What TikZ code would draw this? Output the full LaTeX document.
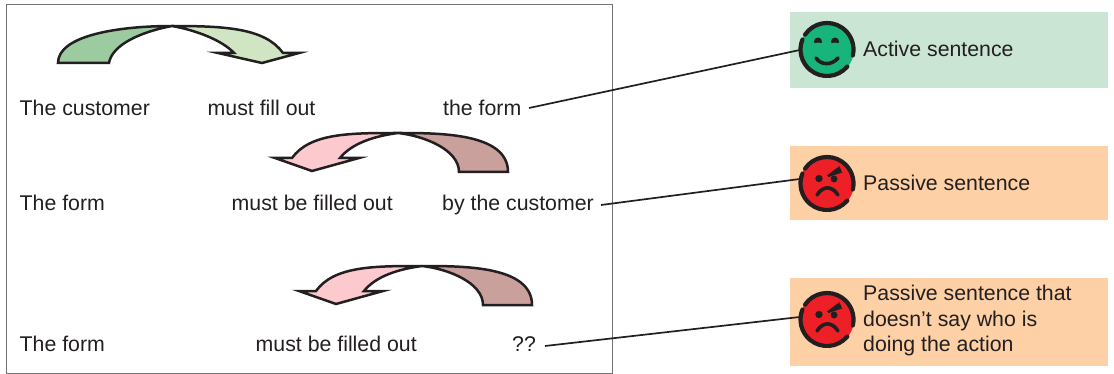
\documentclass[tikz,border=0pt]{standalone}
\usepackage{fontspec}
\setmainfont{Liberation Sans}
\definecolor{txt}{HTML}{231F20}
\definecolor{gDark}{HTML}{9CCBA0}
\definecolor{gLight}{HTML}{CFE5C4}
\definecolor{pLight}{HTML}{FBC9CE}
\definecolor{pDark}{HTML}{C9A09C}
\definecolor{gBox}{HTML}{CBE5D4}
\definecolor{oBox}{HTML}{FDD0A5}
\definecolor{faceG}{HTML}{17B47C}
\definecolor{faceR}{HTML}{EE2027}
\tikzset{
  lbl/.style={font=\fontsize{21.3}{25}\selectfont,text=txt,inner sep=0pt,anchor=base west},
  tag/.style={font=\fontsize{21.3}{25.5}\selectfont,text=txt,inner sep=0pt,anchor=west,align=left},
  conn/.style={draw=txt,line width=1.7pt},
  outl/.style={draw=txt,line width=2.5pt,line join=miter,miter limit=12},
  panel/.style={fill=#1,draw=none},
  facering/.style={draw=txt,line width=4.2pt,line cap=round},
  facepart/.style={draw=txt,line width=3.6pt,line cap=round},
  facedisk/.style={circle,minimum size=54pt,inner sep=0pt,fill=#1}
}
\newcommand{\facering}[1]{%
  \draw[facering] (#1) ++(40:26.5) arc[start angle=40,end angle=202,radius=26.5];
  \draw[facering] (#1) ++(214:26.5) arc[start angle=214,end angle=373,radius=26.5];
}
\newcommand{\angry}[1]{%
  \begin{scope}[shift={(#1)}]
    \fill[txt] (-8,-5) circle (3.7) (7,-4.5) circle (3.5);
    \fill[txt] (0,-8) -- (12.5,-17.5) -- (15,-11) -- (1.5,-6.5) -- cycle;
    \draw[facepart] (-10,11.5) .. controls (-4,2) and (5,2) .. (11,11.5);
  \end{scope}
}
\newcommand{\pinkarrow}[1]{%
  \begin{scope}[shift={(#1)}]
    \path[fill=pDark] (398,133) .. controls (440,133) and (508,133) .. (508,172) -- (459,172) .. controls (459,150) and (425,136) .. (398,133) -- cycle;
    \path[fill=pLight] (398,133) .. controls (350,133) and (310,133) .. (292,158) -- (275,158) -- (312,171) -- (359,158) -- (340,158) .. controls (352,143) and (375,136) .. (398,133) -- cycle;
    \draw[outl] (398,133) .. controls (440,133) and (508,133) .. (508,172) -- (459,172) .. controls (459,150) and (425,136) .. (398,133) .. controls (375,136) and (352,143) .. (340,158) -- (359,158) -- (312,171) -- (275,158) -- (292,158) .. controls (310,133) and (350,133) .. (398,133) -- cycle;
  \end{scope}
}
\begin{document}
\begin{tikzpicture}[x=1pt,y=-1pt]
\useasboundingbox (0,0) rectangle (1114,374);
\draw[draw=black!55,line width=0.8pt] (6,4) rectangle (612,373.4);
% panels
\path[panel=gBox] (790,12) rectangle (1108,88);
\path[panel=oBox] (790,146) rectangle (1108,220);
\path[panel=oBox] (790,278) rectangle (1108,366);
% green arrow
\path[fill=gDark] (172,26) .. controls (120,26) and (58,35) .. (58,63) -- (109,63) .. controls (112,45) and (140,32) .. (172,26) -- cycle;
\path[fill=gLight] (172,26) .. controls (225,26) and (265,28) .. (283,53) -- (299,53) -- (262,63) -- (218,53) -- (234,53) .. controls (222,40) and (195,30) .. (172,26) -- cycle;
\draw[outl] (172,26) .. controls (120,26) and (58,35) .. (58,63) -- (109,63) .. controls (112,45) and (140,32) .. (172,26) .. controls (195,30) and (222,40) .. (234,53) -- (218,53) -- (262,63) -- (299,53) -- (283,53) .. controls (265,28) and (225,26) .. (172,26) -- cycle;
\pinkarrow{0,0}
\pinkarrow{24,133}
% sentences
\node[lbl] (a1) at (19.5,115.5) {The customer};
\node[lbl] (a2) at (207.5,115.5) {must fill out};
\node[lbl] (a3) at (443,115.5) {the form};
\node[lbl] (b1) at (19.5,210.5) {The form};
\node[lbl] (b2) at (231.5,210.5) {must be filled out};
\node[lbl] (b3) at (442,210.5) {by the customer};
\node[lbl] (c1) at (19.5,351.5) {The form};
\node[lbl] (c2) at (255.5,351.5) {must be filled out};
\node[lbl] (c3) at (512,351.5) {??};
% faces
\node[facedisk=faceG] (f1) at (827,49.5) {};
\node[facedisk=faceR] (f2) at (827,183.5) {};
\node[facedisk=faceR] (f3) at (827,319.5) {};
% connectors
\coordinate (e1) at (529,108);
\coordinate (e2) at (601,205);
\coordinate (e3) at (545,346);
\draw[conn] (e1) -- (f1.west |- 800,50);
\draw[conn] (e2) -- (f2.west |- 800,179);
\draw[conn] (e3) -- (f3.west |- 800,317);
\facering{f1}
\facering{f2}
\facering{f3}
% smile
\begin{scope}[shift={(f1)}]
  \fill[txt] (-9,-8) circle (4) (8,-8) circle (4);
  \fill[faceG] (-14,-5) .. controls (-11,-7.5) and (-7,-7.5) .. (-4,-5) -- (-4,-2) -- (-14,-2) -- cycle;
  \fill[faceG] (3,-5) .. controls (6,-7.5) and (10,-7.5) .. (13,-5) -- (13,-2) -- (3,-2) -- cycle;
  \draw[facepart] (-11,8.5) .. controls (-6,16) and (5,16) .. (11,8.5);
\end{scope}
\angry{f2}
\angry{f3}
% tags
\node[tag] (t1) at (863,49) {Active sentence};
\node[tag] (t2) at (863,183) {Passive sentence};
\node[tag] (t3) at (863,320.5) {Passive sentence that\\doesn’t say who is\\doing the action};
\end{tikzpicture}
\end{document}
